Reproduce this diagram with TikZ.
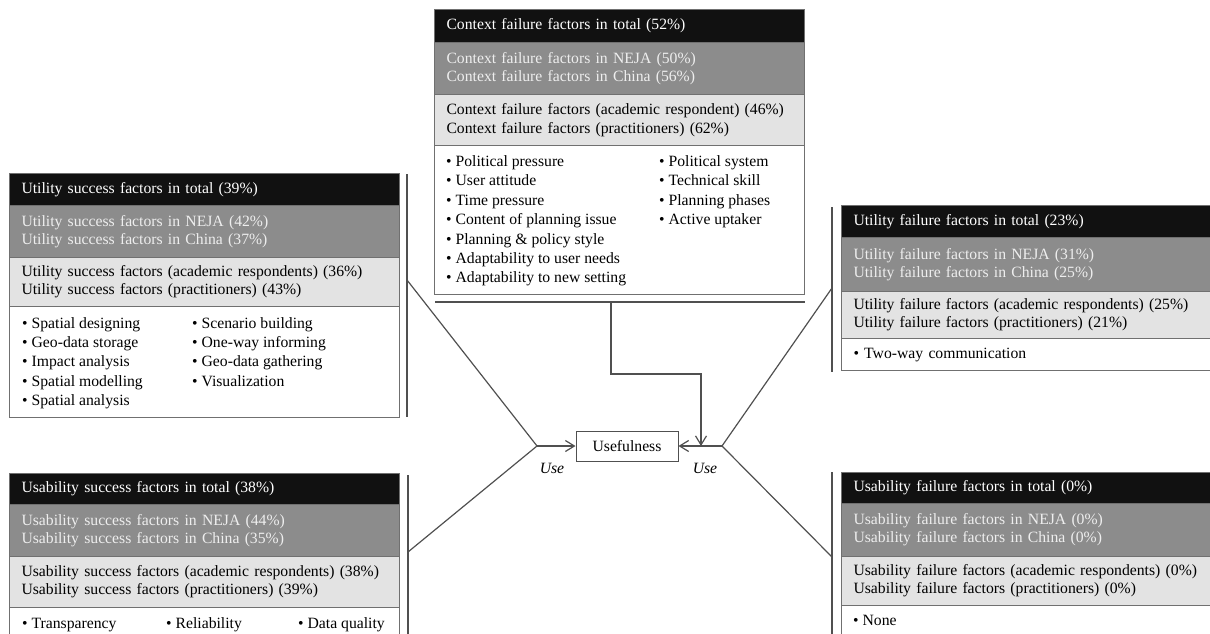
\documentclass[tikz,border=0pt]{standalone}
\usepackage{fontspec}
\setmainfont{Liberation Serif}
\usetikzlibrary{arrows.meta}
\definecolor{headblack}{HTML}{111111}
\definecolor{darkband}{HTML}{8C8C8C}
\definecolor{darktext}{HTML}{EEEEEE}
\definecolor{lightband}{HTML}{E3E3E3}
\definecolor{framegrey}{HTML}{707070}
\definecolor{linegrey}{HTML}{505050}

\begin{document}
\begin{tikzpicture}[x=1pt,y=-1pt,
    every node/.style={font=\fontsize{15.7}{18.3}\selectfont},
    band/.style={draw=framegrey,line width=1pt,anchor=north west,inner xsep=12pt,inner ysep=0pt,align=left},
    head/.style={band,fill=headblack,text=white},
    dark/.style={band,fill=darkband,text=darktext},
    light/.style={band,fill=lightband},
    plain/.style={band,fill=white},
    items/.style={anchor=base west,inner sep=0pt,align=left,font=\fontsize{15.7}{19.4}\selectfont},
    uselab/.style={font=\fontsize{15.7}{18.3}\selectfont\itshape},
    link/.style={draw=linegrey,line width=1.2pt},
    arr/.style={link,-{Straight Barb[length=9pt,width=11pt]}}]
    \useasboundingbox (0,0) rectangle (1210,634);
    % context failure
    \node[head,text width=346pt,minimum height=33pt] (ch) at (434,9) {Context failure factors in total (52\%)};
    \node[dark,text width=346pt,minimum height=52pt] (cd) at (434,42) {Context failure factors in NEJA (50\%)\\Context failure factors in China (56\%)};
    \node[light,text width=346pt,minimum height=51pt] (cl) at (434,94) {Context failure factors (academic respondent) (46\%)\\Context failure factors (practitioners) (62\%)};
    \node[plain,text width=346pt,minimum height=149pt] (cw) at (434,145) {};
    % base = last line
    \node[items] (ca) at (446,282.9) {• Political pressure\\• User attitude\\• Time pressure\\• Content of planning issue\\• Planning \& policy style\\• Adaptability to user needs\\• Adaptability to new setting};
    \node[items] (cb) at (659,224.7) {• Political system\\• Technical skill\\• Planning phases\\• Active uptaker};
    % utility success
    \node[head,text width=366pt,minimum height=32pt] (uh) at (9,173) {Utility success factors in total (39\%)};
    \node[dark,text width=366pt,minimum height=52pt] (ud) at (9,205) {Utility success factors in NEJA (42\%)\\Utility success factors in China (37\%)};
    \node[light,text width=366pt,minimum height=49pt] (ul) at (9,257) {Utility success factors (academic respondents) (36\%)\\Utility success factors (practitioners) (43\%)};
    \node[plain,text width=366pt,minimum height=111pt] (uw) at (9,306) {};
    \node[items] (ua) at (22,405.6) {• Spatial designing\\• Geo-data storage\\• Impact analysis\\• Spatial modelling\\• Spatial analysis};
    \node[items] (ub) at (192,386.2) {• Scenario building\\• One-way informing\\• Geo-data gathering\\• Visualization};
    % utility failure
    \node[head,text width=351pt,minimum height=32pt] (fh) at (841,205) {Utility failure factors in total (23\%)};
    \node[dark,text width=351pt,minimum height=54pt] (fd) at (841,237) {Utility failure factors in NEJA (31\%)\\Utility failure factors in China (25\%)};
    \node[light,text width=351pt,minimum height=47pt] (fl) at (841,291) {Utility failure factors (academic respondents) (25\%)\\Utility failure factors (practitioners) (21\%)};
    \node[plain,text width=351pt,minimum height=32pt] (fw) at (841,338) {• Two-way communication};
    % usability success
    \node[head,text width=366pt,minimum height=31pt] (sh) at (9,473) {Usability success factors in total (38\%)};
    \node[dark,text width=366pt,minimum height=52pt] (sd) at (9,504) {Usability success factors in NEJA (44\%)\\Usability success factors in China (35\%)};
    \node[light,text width=366pt,minimum height=51pt] (sl) at (9,556) {Usability success factors (academic respondents) (38\%)\\Usability success factors (practitioners) (39\%)};
    \node[plain,text width=366pt,minimum height=40pt] (sw) at (9,607) {};
    \node[items] (sa) at (22,628) {• Transparency};
    \node[items] (sb) at (166,628) {• Reliability};
    \node[items] (sc) at (298,628) {• Data quality};
    % usability failure
    \node[head,text width=351pt,minimum height=31pt] (xh) at (841,472) {Usability failure factors in total (0\%)};
    \node[dark,text width=351pt,minimum height=53pt] (xd) at (841,503) {Usability failure factors in NEJA (0\%)\\Usability failure factors in China (0\%)};
    \node[light,text width=351pt,minimum height=49pt] (xl) at (841,556) {Usability failure factors (academic respondents) (0\%)\\Usability failure factors (practitioners) (0\%)};
    \node[plain,text width=351pt,minimum height=40pt] (xw) at (841,605) {};
    \node[items] (xa) at (853,625) {• None};
    % usefulness
    \node[draw=linegrey,line width=1pt,minimum width=102pt,minimum height=30pt,inner sep=0pt] (use) at (627,446) {Usefulness};
    \node[uselab] (usel) at (552,468) {Use};
    \node[uselab] (user) at (705,468) {Use};
    \coordinate (jl) at (537,446);
    \coordinate (jr) at (722,446);
    \coordinate (ut) at (407,174);
    \coordinate (ubot) at (407,417);
    \coordinate (um) at (407,280);
    \coordinate (st) at (408,475);
    \coordinate (sbot) at (408,640);
    \coordinate (sm) at (408,552);
    \coordinate (ft) at (832,207);
    \coordinate (fbot) at (832,372);
    \coordinate (fm) at (832,288);
    \coordinate (xt) at (832,472);
    \coordinate (xbot) at (832,640);
    \coordinate (xm) at (832,557);
    \coordinate (cl1) at (435,302);
    \coordinate (cr1) at (805,302);
    \coordinate (cm) at (611,302);
    \coordinate (bend) at (701,374);
    \coordinate (jt) at (701,446);
    \draw[link] (ut) -- (ubot);
    \draw[link] (st) -- (sbot);
    \draw[link] (ft) -- (fbot);
    \draw[link] (xt) -- (xbot);
    \draw[link] (cl1) -- (cr1);
    \draw[link] (um) -- (jl) -- (sm);
    \draw[link] (fm) -- (jr) -- (xm);
    \draw[arr] (jl) -- (use.west);
    \draw[arr] (jr) -- (use.east);
    \draw[arr] (cm) |- (bend) -- (jt);
\end{tikzpicture}
\end{document}
